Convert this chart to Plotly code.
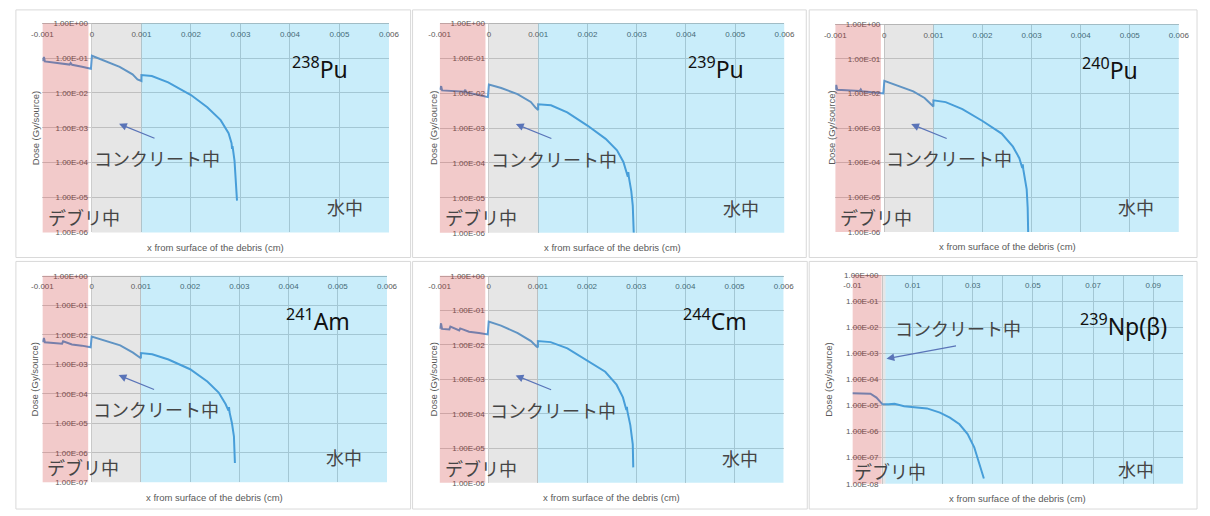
import plotly.graph_objects as go

# ---------------- data ----------------
X_PU238 = [-0.001, -0.00097, -0.00095, -0.0007, -0.00045, -0.00043, -0.0004, -0.0002, -0.00002, 0.0,
           0.00023, 0.00056, 0.00082, 0.00092, 0.001, 0.001, 0.00121, 0.00154, 0.002, 0.00233,
           0.0026, 0.00276, 0.00282, 0.00283, 0.00284, 0.00288, 0.00291, 0.00293]
Y_PU238 = [0.082, 0.107, 0.080, 0.072, 0.065, 0.072, 0.064, 0.056, 0.049, 0.116,
           0.086, 0.056, 0.034, 0.0245, 0.022, 0.0326, 0.0305, 0.020, 0.0087, 0.0039,
           0.00166, 0.0007, 0.00036, 0.00025, 0.0003, 0.000112, 0.000031, 0.0000082]

X_PU239 = [-0.001, -0.00097, -0.00095, -0.0007, -0.0005, -0.00048, -0.00046, -0.0003, -0.00002, 0.0,
           0.00025, 0.00058, 0.00085, 0.00095, 0.001, 0.001, 0.00126, 0.00159, 0.002, 0.00237,
           0.0026, 0.00273, 0.00282, 0.00283, 0.00284, 0.00289, 0.00292, 0.00294]
Y_PU239 = [0.0125, 0.0158, 0.012, 0.0115, 0.011, 0.0125, 0.0105, 0.0095, 0.0077, 0.0177,
           0.014, 0.0094, 0.0056, 0.0038, 0.0033, 0.0048, 0.0045, 0.0028, 0.00118, 0.00049,
           0.00023, 0.000107, 0.00004, 0.000055, 0.00004, 0.0000155, 0.000006, 0.000001]

X_PU240 = [-0.001, -0.00098, -0.00096, -0.0007, -0.0005, -0.00048, -0.00046, -0.0003, -0.00002, 0.0,
           0.00025, 0.00059, 0.00082, 0.00095, 0.001, 0.001, 0.00125, 0.00159, 0.002, 0.00239,
           0.00262, 0.00275, 0.00281, 0.00282, 0.00283, 0.0029, 0.00292, 0.00293]
Y_PU240 = [0.0128, 0.0177, 0.0128, 0.0122, 0.0118, 0.013, 0.0115, 0.011, 0.010, 0.023,
           0.017, 0.0115, 0.0074, 0.0048, 0.0042, 0.0063, 0.0056, 0.0035, 0.0016, 0.00069,
           0.00029, 0.000135, 0.00007, 0.00009, 0.000065, 0.000017, 0.000005, 0.000001]

X_AM241 = [-0.001, -0.00097, -0.00095, -0.0007, -0.0006, -0.00058, -0.0004, -0.0002, -0.00002, 0.0,
           0.00025, 0.00058, 0.00084, 0.00098, 0.001, 0.001, 0.00123, 0.00156, 0.002, 0.00235,
           0.00258, 0.00272, 0.00278, 0.00279, 0.0028, 0.00285, 0.00289, 0.00291]
Y_AM241 = [0.0056, 0.0078, 0.0056, 0.0052, 0.0050, 0.0060, 0.0047, 0.0043, 0.0038, 0.0088,
           0.0065, 0.0044, 0.0025, 0.0017, 0.0016, 0.0024, 0.0022, 0.00145, 0.00068, 0.00026,
           0.00011, 0.000045, 0.000027, 0.000035, 0.000024, 0.00001, 0.0000036, 0.00000045]

X_CM244 = [-0.001, -0.00097, -0.00095, -0.0008, -0.00078, -0.0006, -0.00058, -0.0004, -0.0002, -0.00002, 0.0,
           0.00025, 0.00059, 0.00086, 0.00097, 0.001, 0.001, 0.00126, 0.0016, 0.002, 0.00237,
           0.0026, 0.00273, 0.0028, 0.00281, 0.00282, 0.00288, 0.00293, 0.00294]
Y_CM244 = [0.029, 0.042, 0.029, 0.028, 0.034, 0.026, 0.030, 0.024, 0.022, 0.020, 0.047,
           0.036, 0.022, 0.0128, 0.009, 0.0085, 0.0129, 0.012, 0.0079, 0.0036, 0.00166,
           0.0007, 0.0003, 0.00013, 0.00016, 0.00012, 0.000047, 0.000013, 0.0000028]

X_NP239 = [-0.01, -0.006, -0.004, -0.002, -0.0005, 0.0, 0.002, 0.004, 0.0072, 0.0105,
           0.0148, 0.0191, 0.0224, 0.0256, 0.0283, 0.0305, 0.0321, 0.0337]
Y_NP239 = [2.9e-5, 2.9e-5, 2.8e-5, 2.0e-5, 1.3e-5, 1.1e-5, 1.1e-5, 1.15e-5, 9.4e-6, 8.7e-6,
           7.7e-6, 5.3e-6, 3.4e-6, 1.9e-6, 8.0e-7, 2.5e-7, 5.8e-8, 1.6e-8]

ISOTOPE_MASS = ["238", "239", "240", "241", "244", "239"]
ISOTOPE_NAME = ["Pu", "Pu", "Pu", "Am", "Cm", "Np(β)"]

X_TICKS_SHORT = [-0.001, 0.0, 0.001, 0.002, 0.003, 0.004, 0.005, 0.006]
X_TICKTEXT_SHORT = ["-0.001", "0", "0.001", "0.002", "0.003", "0.004", "0.005", "0.006"]
X_TICKS_LONG = [-0.01, 0.01, 0.03, 0.05, 0.07, 0.09]
X_TICKTEXT_LONG = ["-0.01", "0.01", "0.03", "0.05", "0.07", "0.09"]
Y_DECADES = [0, -1, -2, -3, -4, -5, -6, -7, -8]
Y_TICKTEXT = ["1.00E+00", "1.00E-01", "1.00E-02", "1.00E-03", "1.00E-04",
              "1.00E-05", "1.00E-06", "1.00E-07", "1.00E-08"]

LAYER_CONCRETE_END = [0.001, 0.001, 0.001, 0.001, 0.001, 0.001]
X_RANGES = [(-0.001, 0.006)] * 5 + [(-0.01, 0.1)]
Y_MIN_DECADE = [-6, -6, -6, -7, -6, -8]

SERIES = [(X_PU238, Y_PU238), (X_PU239, Y_PU239), (X_PU240, Y_PU240),
          (X_AM241, Y_AM241), (X_CM244, Y_CM244), (X_NP239, Y_NP239)]

# ---------------- layout geometry ----------------
W, H = 1210, 516
PLOT_PX = [
    (32.0, 385.0, 19.5, 232.5),
    (436.6, 787.8, 19.7, 232.8),
    (839.5, 1189.5, 20.5, 232.0),
    (32.0, 383.0, 276.7, 486.7),
    (436.5, 787.0, 276.7, 487.3),
    (857.0, 1194.0, 275.7, 488.3),
]
FRAMES_PX = [(5, 407, 6, 258), (409, 810, 6, 258), (813, 1208, 6, 258),
             (5, 407, 262, 514), (409, 811, 262, 514), (813, 1208, 262, 514)]
YTITLE_SHIFT = [-7, -6.6, -4.5, -8, -6.5, -24]

TICK_FONT = dict(family="Liberation Sans, Arial, sans-serif", size=8, color="#595959")
JP_FONT = dict(family="Noto Sans CJK JP", size=18, color="#454545")
LINE_COLOR = "#5b9bd5"
GRID = "#cfcfcf"

fig = go.Figure()
shapes, annotations = [], []

for i in range(6):
    n = "" if i == 0 else str(i + 1)
    x0p, x1p, y0p, y1p = PLOT_PX[i]
    xdom = [x0p / W, x1p / W]
    ydom = [1 - y1p / H, 1 - y0p / H]
    xmin, xmax = X_RANGES[i]
    ymin = Y_MIN_DECADE[i]
    ypos = xdom[0] + (0 - xmin) / (xmax - xmin) * (xdom[1] - xdom[0])

    xs, ys = SERIES[i]
    fig.add_trace(go.Scatter(x=xs, y=ys, mode="lines", xaxis="x" + n, yaxis="y" + n,
                             line=dict(color=LINE_COLOR, width=2), showlegend=False,
                             hoverinfo="skip"))

    short = i < 5
    yv = [10.0 ** d for d in Y_DECADES if d >= ymin]
    yt = [t for d, t in zip(Y_DECADES, Y_TICKTEXT) if d >= ymin]
    fig.layout["xaxis" + n] = dict(
        domain=xdom, range=[xmin, xmax], anchor="free", position=ydom[1], side="bottom",
        tickvals=X_TICKS_SHORT if short else X_TICKS_LONG,
        ticktext=X_TICKTEXT_SHORT if short else X_TICKTEXT_LONG,
        tickfont=TICK_FONT, ticks="", ticklabelstandoff=3,
        showgrid=True, gridcolor=GRID, gridwidth=1, zeroline=False,
        showline=True, linecolor="#bfbfbf", linewidth=1, fixedrange=True,
        minor=dict(showgrid=False) if short else dict(dtick=0.01, tick0=0, showgrid=True,
                                                       gridcolor=GRID, gridwidth=1),
    )
    fig.layout["yaxis" + n] = dict(
        domain=ydom, type="log", range=[ymin, 0], anchor="free", position=ypos, side="left",
        tickvals=yv, ticktext=yt, tickfont=TICK_FONT, ticks="", ticklabelstandoff=4,
        showgrid=True, gridcolor=GRID, gridwidth=1, zeroline=False, showline=False,
        fixedrange=True,
    )

    xr, yr = "x" + n, "y" + n + " domain"
    gap = 0.00007 if short else 0.0003
    shapes += [
        dict(type="rect", xref=xr, yref=yr, x0=xmin, x1=-gap, y0=0, y1=1, layer="above",
             line=dict(width=0), fillcolor="rgba(205,45,45,0.25)"),
        dict(type="rect", xref=xr, yref=yr, x0=0, x1=LAYER_CONCRETE_END[i], y0=0, y1=1,
             layer="above", line=dict(width=0), fillcolor="rgba(120,120,120,0.19)"),
        dict(type="rect", xref=xr, yref=yr, x0=LAYER_CONCRETE_END[i], x1=xmax, y0=0, y1=1,
             layer="above", line=dict(width=0), fillcolor="rgba(0,170,230,0.21)"),
    ]
    fx0, fx1, fy0, fy1 = FRAMES_PX[i]
    shapes.append(dict(type="rect", xref="paper", yref="paper", x0=fx0 / W, x1=fx1 / W,
                       y0=1 - fy1 / H, y1=1 - fy0 / H, layer="below",
                       line=dict(color="#d9d9d9", width=1), fillcolor="rgba(0,0,0,0)"))

    xd = "x" + n + " domain"
    # axis titles
    annotations.append(dict(xref=xd, yref=yr, x=0.5, y=0, yshift=-15, showarrow=False,
                            text="x from surface of the debris (cm)",
                            font=dict(family="Liberation Sans, Arial", size=9.5, color="#595959"),
                            xanchor="center", yanchor="middle"))
    annotations.append(dict(xref=xd, yref=yr, x=0, y=0.5, xshift=YTITLE_SHIFT[i], showarrow=False,
                            text="Dose (Gy/source)", textangle=-90,
                            font=dict(family="Liberation Sans, Arial", size=9.5, color="#595959"),
                            xanchor="center", yanchor="middle"))
    # isotope label
    lab = "<sup>%s</sup>%s" % (ISOTOPE_MASS[i], ISOTOPE_NAME[i])
    if short:
        lx, ly = 0.80, 1 - 0.214
        cx, cy = 0.331, 1 - 0.646
        dx, dy = 0.119, 1 - 0.927
        wx, wy = 0.874, 1 - 0.88
        tipx, tipy, tax, tay = 0.221, 1 - 0.481, 37, 15
    else:
        lx, ly = 0.819, 1 - 0.241
        cx, cy = 0.32, 1 - 0.255
        dx, dy = 0.113, 1 - 0.937
        wx, wy = 0.858, 1 - 0.928
        tipx, tipy, tax, tay = 0.103, 1 - 0.401, 71, -13
    annotations.append(dict(xref=xd, yref=yr, x=lx, y=ly, showarrow=False, text=lab,
                            font=dict(family="Noto Sans", size=23, color="#111111"),
                            xanchor="center", yanchor="middle"))
    annotations.append(dict(xref=xd, yref=yr, x=cx, y=cy, showarrow=False, text="コンクリート中",
                            font=JP_FONT, xanchor="center", yanchor="middle"))
    annotations.append(dict(xref=xd, yref=yr, x=dx, y=dy, showarrow=False, text="デブリ中",
                            font=JP_FONT, xanchor="center", yanchor="middle"))
    annotations.append(dict(xref=xd, yref=yr, x=wx, y=wy, showarrow=False, text="水中",
                            font=JP_FONT, xanchor="center", yanchor="middle"))
    annotations.append(dict(xref=xd, yref=yr, x=tipx, y=tipy, text="", showarrow=True,
                            ax=tax, ay=tay, axref="pixel", ayref="pixel",
                            arrowhead=2, arrowsize=1.3, arrowwidth=1.2, arrowcolor="#5a74b8",
                            standoff=0, startstandoff=0))

fig.update_layout(
    width=W, height=H, margin=dict(l=0, r=0, t=0, b=0),
    paper_bgcolor="white", plot_bgcolor="white",
    shapes=shapes, annotations=annotations, showlegend=False,
)

fig.write_html("out.html")
